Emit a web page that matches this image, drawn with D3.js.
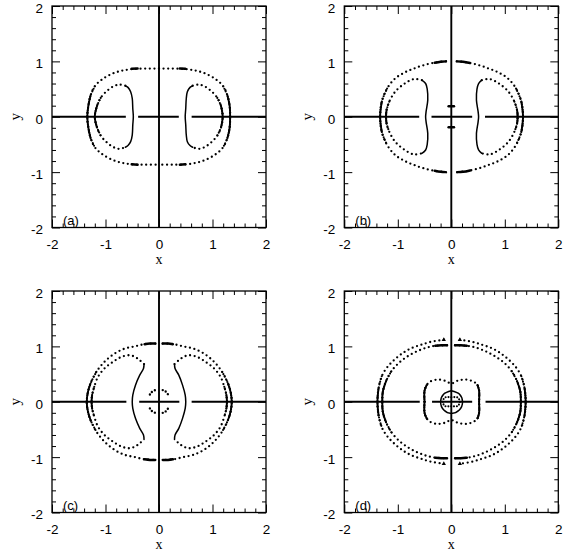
<!DOCTYPE html>
<html><head><meta charset="utf-8">
<script src="https://cdn.jsdelivr.net/npm/d3@7"></script>
<style>body{margin:0;background:#fff}svg{display:block}</style>
</head><body>
<svg id="chart" width="563" height="552"></svg>
<script>
// ---------- tick data ----------
const majorTicks = [-2, -1, 0, 1, 2];
const tickLabels = ["-2", "-1", "0", "1", "2"];
const minorTicks = [-1.8,-1.6,-1.4,-1.2,-0.8,-0.6,-0.4,-0.2,0.2,0.4,0.6,0.8,1.2,1.4,1.6,1.8];
const panelLabels = ["(a)", "(b)", "(c)", "(d)"];
const xTitle = "x", yTitle = "y";

// ---------- shared vertical axis line (x = 0) ----------
const vAxisSpan = [-2, 2];

// ---------- panel (a) ----------
const aAxisH = [[-2,-0.62],[-0.39,0.37],[0.61,2]];
const aOuter = [
  [[0,0.87],[-0.25,0.87],[-0.5,0.86],[-0.70,0.83],[-0.88,0.775],[-1.07,0.67],[-1.20,0.55],[-1.28,0.38],[-1.32,0.2],[-1.34,0],[-1.32,-0.2],[-1.28,-0.38],[-1.20,-0.55],[-1.07,-0.67],[-0.88,-0.775],[-0.70,-0.83],[-0.5,-0.86],[-0.25,-0.865],[0,-0.865]],
  [[0,0.87],[0.25,0.87],[0.5,0.86],[0.70,0.83],[0.88,0.775],[1.07,0.67],[1.20,0.55],[1.28,0.38],[1.32,0.2],[1.33,0],[1.32,-0.2],[1.28,-0.38],[1.20,-0.55],[1.07,-0.67],[0.88,-0.775],[0.70,-0.83],[0.5,-0.86],[0.25,-0.865],[0,-0.865]]
];
const aInner = [
  [[-0.63,0.56],[-0.74,0.58],[-0.85,0.55],[-0.98,0.46],[-1.09,0.34],[-1.16,0.19],[-1.20,0],[-1.16,-0.19],[-1.09,-0.34],[-0.98,-0.46],[-0.85,-0.55],[-0.74,-0.58],[-0.63,-0.55]],
  [[0.63,0.56],[0.74,0.58],[0.85,0.55],[0.98,0.46],[1.09,0.34],[1.16,0.19],[1.19,0],[1.16,-0.19],[1.09,-0.34],[0.98,-0.46],[0.85,-0.55],[0.74,-0.58],[0.63,-0.55]]
];
const aBrackets = [
  [[-0.63,0.56],[-0.58,0.53],[-0.53,0.45],[-0.50,0.33],[-0.49,0.15],[-0.48,0],[-0.49,-0.15],[-0.50,-0.33],[-0.53,-0.45],[-0.58,-0.52],[-0.63,-0.55]],
  [[0.63,0.56],[0.58,0.53],[0.53,0.45],[0.51,0.33],[0.50,0.15],[0.49,0],[0.50,-0.15],[0.51,-0.33],[0.53,-0.45],[0.58,-0.52],[0.63,-0.55]]
];
const aClumps = [
  [[-0.51,0.865],[-0.40,0.87]], [[0.39,0.87],[0.49,0.865]],
  [[-0.51,-0.86],[-0.40,-0.865]], [[0.39,-0.865],[0.49,-0.86]]
];

// ---------- panel (b) ----------
const bAxisH = [[-2,-0.60],[-0.37,0.39],[0.63,2]];
const bOuter = [
  [[-0.1,1.0],[-0.30,0.98],[-0.52,0.93],[-0.70,0.87],[-0.87,0.80],[-1.05,0.69],[-1.20,0.51],[-1.30,0.27],[-1.33,0],[-1.30,-0.27],[-1.20,-0.51],[-1.05,-0.69],[-0.87,-0.80],[-0.70,-0.87],[-0.52,-0.93],[-0.30,-0.98],[-0.1,-1.0]],
  [[0.1,1.0],[0.30,0.98],[0.52,0.93],[0.70,0.87],[0.88,0.80],[1.06,0.69],[1.21,0.51],[1.31,0.27],[1.34,0],[1.31,-0.27],[1.21,-0.51],[1.06,-0.69],[0.88,-0.80],[0.70,-0.87],[0.52,-0.93],[0.30,-0.98],[0.1,-1.0]]
];
const bInner = [
  [[-0.55,0.66],[-0.70,0.68],[-0.87,0.60],[-1.05,0.45],[-1.16,0.27],[-1.21,0.12],[-1.22,0],[-1.21,-0.12],[-1.16,-0.27],[-1.05,-0.45],[-0.87,-0.60],[-0.70,-0.68],[-0.55,-0.66]],
  [[0.57,0.66],[0.72,0.68],[0.89,0.60],[1.07,0.45],[1.18,0.27],[1.23,0.12],[1.24,0],[1.23,-0.12],[1.18,-0.27],[1.07,-0.45],[0.89,-0.60],[0.72,-0.68],[0.57,-0.66]]
];
const bBrackets = [
  [[-0.55,0.66],[-0.48,0.6],[-0.45,0.5],[-0.44,0.3],[-0.47,0.1],[-0.48,0],[-0.47,-0.1],[-0.44,-0.3],[-0.45,-0.5],[-0.48,-0.6],[-0.55,-0.66]],
  [[0.57,0.66],[0.51,0.6],[0.48,0.5],[0.47,0.3],[0.50,0.1],[0.51,0],[0.50,-0.1],[0.47,-0.3],[0.48,-0.5],[0.51,-0.6],[0.57,-0.66]]
];
const bClumps = [
  [[-0.31,0.975],[-0.20,0.995],[-0.10,1.0]], [[0.11,1.0],[0.22,0.995],[0.35,0.97]],
  [[-0.31,-0.975],[-0.20,-0.995],[-0.10,-1.0]], [[0.11,-1.0],[0.22,-0.995],[0.35,-0.97]]
];
const bMarks = [
  [[-0.05,0.19],[0.05,0.19]], [[-0.05,-0.19],[0.05,-0.19]]
];

// ---------- panel (c) ----------
const cAxisH = [[-2,-0.61],[-0.37,0.38],[0.61,2]];
const cOuter = [
  [[-0.07,1.05],[-0.27,1.04],[-0.45,1.0],[-0.64,0.96],[-0.83,0.87],[-1.02,0.72],[-1.17,0.54],[-1.28,0.33],[-1.33,0.17],[-1.35,0],[-1.33,-0.17],[-1.28,-0.33],[-1.17,-0.54],[-1.02,-0.72],[-0.83,-0.87],[-0.64,-0.96],[-0.45,-1.0],[-0.27,-1.04],[-0.07,-1.05]],
  [[0.07,1.05],[0.27,1.04],[0.45,1.0],[0.64,0.96],[0.84,0.87],[1.03,0.72],[1.18,0.54],[1.29,0.33],[1.34,0.17],[1.36,0],[1.34,-0.17],[1.29,-0.33],[1.18,-0.54],[1.03,-0.72],[0.84,-0.87],[0.64,-0.96],[0.45,-1.0],[0.27,-1.04],[0.07,-1.05]]
];
const cInner = [
  [[-0.28,0.68],[-0.36,0.75],[-0.45,0.81],[-0.55,0.84],[-0.70,0.81],[-0.86,0.72],[-1.02,0.60],[-1.14,0.45],[-1.21,0.27],[-1.25,0.12],[-1.26,0],[-1.25,-0.12],[-1.21,-0.27],[-1.14,-0.45],[-1.02,-0.60],[-0.86,-0.72],[-0.70,-0.81],[-0.55,-0.84],[-0.45,-0.81],[-0.36,-0.75],[-0.28,-0.68]],
  [[0.29,0.68],[0.37,0.75],[0.46,0.81],[0.56,0.84],[0.71,0.81],[0.87,0.72],[1.03,0.60],[1.15,0.45],[1.22,0.27],[1.26,0.12],[1.27,0],[1.26,-0.12],[1.22,-0.27],[1.15,-0.45],[1.03,-0.60],[0.87,-0.72],[0.71,-0.81],[0.56,-0.84],[0.46,-0.81],[0.37,-0.75],[0.29,-0.68]]
];
const cBrackets = [
  [[-0.28,0.68],[-0.29,0.6],[-0.36,0.48],[-0.44,0.3],[-0.49,0.12],[-0.50,0],[-0.49,-0.12],[-0.44,-0.3],[-0.36,-0.48],[-0.29,-0.6],[-0.28,-0.68]],
  [[0.29,0.68],[0.30,0.6],[0.37,0.48],[0.44,0.3],[0.49,0.12],[0.50,0],[0.49,-0.12],[0.44,-0.3],[0.37,-0.48],[0.30,-0.6],[0.29,-0.68]]
];
const cClumps = [
  [[-0.27,1.04],[-0.17,1.05],[-0.07,1.05]], [[0.07,1.05],[0.17,1.05],[0.26,1.04]],
  [[-0.27,-1.04],[-0.17,-1.05],[-0.07,-1.05]], [[0.07,-1.05],[0.17,-1.05],[0.26,-1.04]]
];
const cCore = [
  [[-0.17,0.13],[-0.13,0.18],[-0.07,0.21]], [[0.07,0.21],[0.13,0.18],[0.17,0.13]],
  [[-0.17,-0.12],[-0.13,-0.17],[-0.07,-0.2]], [[0.07,-0.2],[0.13,-0.17],[0.17,-0.12]]
];

// ---------- panel (d) ----------
const dAxisH = [[-2,-0.59],[-0.36,0.39],[0.64,2]];
const dOuter = [
  [[-0.14,1.12],[-0.39,1.08],[-0.56,1.03],[-0.74,0.97],[-0.89,0.89],[-1.05,0.77],[-1.20,0.62],[-1.30,0.46],[-1.36,0.24],[-1.38,0],[-1.36,-0.24],[-1.30,-0.46],[-1.20,-0.62],[-1.05,-0.77],[-0.89,-0.89],[-0.74,-0.97],[-0.56,-1.03],[-0.39,-1.08],[-0.14,-1.12]],
  [[0.16,1.12],[0.40,1.08],[0.57,1.03],[0.75,0.97],[0.90,0.89],[1.06,0.77],[1.21,0.62],[1.31,0.46],[1.37,0.24],[1.39,0],[1.37,-0.24],[1.31,-0.46],[1.21,-0.62],[1.06,-0.77],[0.90,-0.89],[0.75,-0.97],[0.57,-1.03],[0.40,-1.08],[0.16,-1.12]]
];
const dInner = [
  [[-0.08,1.02],[-0.30,1.01],[-0.45,0.98],[-0.62,0.92],[-0.80,0.83],[-0.97,0.71],[-1.12,0.55],[-1.22,0.37],[-1.28,0.18],[-1.29,0],[-1.28,-0.18],[-1.22,-0.37],[-1.12,-0.55],[-0.97,-0.71],[-0.80,-0.83],[-0.62,-0.92],[-0.45,-0.98],[-0.30,-1.01],[-0.08,-1.02]],
  [[0.07,1.02],[0.29,1.01],[0.45,0.98],[0.62,0.92],[0.80,0.83],[0.98,0.71],[1.13,0.55],[1.23,0.37],[1.29,0.18],[1.30,0],[1.29,-0.18],[1.23,-0.37],[1.13,-0.55],[0.98,-0.71],[0.80,-0.83],[0.62,-0.92],[0.45,-0.98],[0.29,-1.01],[0.07,-1.02]]
];
const dClumps = [
  [[-0.30,1.01],[-0.19,1.02],[-0.08,1.02]], [[0.07,1.02],[0.18,1.02],[0.29,1.01]],
  [[-0.30,-1.01],[-0.19,-1.02],[-0.08,-1.02]], [[0.07,-1.02],[0.18,-1.02],[0.29,-1.01]]
];
const dPeaks = [[-0.14,1.12],[0.16,1.12],[-0.14,-1.12],[0.16,-1.12]];
const dLoop = [
  [[-0.50,0],[-0.50,0.2],[-0.46,0.3],[-0.40,0.36],[-0.27,0.40],[-0.12,0.38],[0,0.33],[0.12,0.38],[0.28,0.40],[0.42,0.36],[0.49,0.3],[0.52,0.2],[0.52,0],[0.52,-0.2],[0.49,-0.3],[0.42,-0.36],[0.28,-0.40],[0.12,-0.38],[0,-0.33],[-0.12,-0.38],[-0.27,-0.40],[-0.40,-0.36],[-0.46,-0.3],[-0.50,-0.2],[-0.50,0]]
];
const dRing = [
  [[0,0.20],[-0.14,0.14],[-0.20,0],[-0.14,-0.15],[0,-0.21],[0.15,-0.15],[0.21,0],[0.15,0.14],[0,0.20]]
];
const dOval = [
  [[0,0.08],[-0.12,0.075],[-0.16,0],[-0.12,-0.075],[0,-0.08],[0.12,-0.075],[0.16,0],[0.12,0.075],[0,0.08]]
];

// ---------- panel layout & style config ----------
const STYLE = {
  sparse: {w: 2.3, dash: "0,4.6", cap: "round"},
  medium: {w: 2.1, dash: "0,2.8", cap: "round"},
  core:   {w: 2.4, dash: "0,3.2", cap: "round"},
  side:   {w: 1.9, dash: null,    cap: "round"},
  dense:  {w: 1.5, dash: null,    cap: "round"},
  clump:  {w: 2.5, dash: null,    cap: "round"},
  axis:   {w: 1.9, dash: null,    cap: "butt"}
};
const OUTER_T = {dense: 0.38, med: 0.6};
const INNER_T = {dense: 0.25, med: 0.42};

const panels = [
  {label: panelLabels[0], box: {L: 52,    R: 266,   T: 6,   B: 227.5},
   axisH: aAxisH, graded: [[aOuter, OUTER_T], [aInner, INNER_T]], dense: [aBrackets], medium: [], core: [], clumps: [aClumps], peaks: []},
  {label: panelLabels[1], box: {L: 344.3, R: 558.3, T: 6,   B: 227.5},
   axisH: bAxisH, graded: [[bOuter, OUTER_T], [bInner, INNER_T]], dense: [bBrackets], medium: [], core: [], clumps: [bClumps, bMarks], peaks: []},
  {label: panelLabels[2], box: {L: 52,    R: 266,   T: 291, B: 512.5},
   axisH: cAxisH, graded: [[cOuter, OUTER_T], [cInner, INNER_T]], dense: [cBrackets], medium: [], core: [cCore], clumps: [cClumps], peaks: []},
  {label: panelLabels[3], box: {L: 344.3, R: 558.3, T: 291, B: 512.5},
   axisH: dAxisH, graded: [[dOuter, OUTER_T], [dInner, OUTER_T], [dLoop, {dense: 0.3, med: 0.3}]], dense: [dRing], medium: [dOval], core: [], clumps: [dClumps], peaks: dPeaks}
];

const svg = d3.select("#chart");
svg.append("rect").attr("width", 563).attr("height", 552).attr("fill", "#fff");

function runs(pts, pred) {
  const out = []; let cur = [];
  pts.forEach(p => {
    if (pred(p)) cur.push(p);
    else { if (cur.length > 1) out.push(cur); cur = []; }
  });
  if (cur.length > 1) out.push(cur);
  return out;
}

panels.forEach(P => {
  const {L, R, T, B} = P.box;
  const x = d3.scaleLinear().domain([-2, 2]).range([L, R]);
  const y = d3.scaleLinear().domain([-2, 2]).range([B, T]);
  const g = svg.append("g");
  const line = d3.line().x(d => x(d[0])).y(d => y(d[1])).curve(d3.curveCatmullRom.alpha(0.5));
  const straight = d3.line().x(d => x(d[0])).y(d => y(d[1]));
  const clipId = "clip" + P.label.replace(/\W/g, "");
  g.append("clipPath").attr("id", clipId).append("rect")
    .attr("x", L).attr("y", T).attr("width", R - L).attr("height", B - T);
  const plot = g.append("g").attr("clip-path", `url(#${clipId})`);

  function draw(pts, st, gen) {
    const s = STYLE[st];
    plot.append("path").attr("d", (gen || line)(pts))
      .attr("fill", "none").attr("stroke", "#000")
      .attr("stroke-width", s.w).attr("stroke-linecap", s.cap)
      .attr("stroke-linejoin", "round")
      .attr("stroke-dasharray", s.dash);
  }

  // axis lines made of dense points
  draw([[0, vAxisSpan[0]], [0, vAxisSpan[1]]], "axis", straight);
  P.axisH.forEach(seg => draw([[seg[0], 0], [seg[1], 0]], "axis", straight));

  // graded curves: sparse dots, denser near y = 0
  P.graded.forEach(([curves, t]) => {
    curves.forEach(c => {
      draw(c, "sparse");
      runs(c, p => Math.abs(p[1]) <= t.med + 1e-9).forEach(r => draw(r, "medium"));
      runs(c, p => Math.abs(p[1]) <= t.dense + 1e-9).forEach(r => draw(r, "side"));
    });
  });
  P.dense.forEach(curves => curves.forEach(c => draw(c, "dense")));
  P.medium.forEach(curves => curves.forEach(c => draw(c, "medium")));
  P.core.forEach(curves => curves.forEach(c => draw(c, "core")));
  P.clumps.forEach(curves => curves.forEach(c => draw(c, "clump")));
  plot.selectAll(".peak").data(P.peaks).join("path").attr("class", "peak")
    .attr("d", d3.symbol(d3.symbolTriangle, 8))
    .attr("transform", d => `translate(${x(d[0])},${y(d[1])})`)
    .attr("fill", "#000");

  // frame
  g.append("rect").attr("x", L).attr("y", T).attr("width", R - L).attr("height", B - T)
    .attr("fill", "none").attr("stroke", "#000").attr("stroke-width", 1.3);

  const font = "'Liberation Sans', Arial, Helvetica, sans-serif";
  function addAxis(axisFn, scale, vals, size, fmt, pad, tx, ty) {
    const a = axisFn(scale).tickValues(vals).tickSizeInner(size).tickSizeOuter(0)
      .tickPadding(pad).tickFormat(fmt);
    const ag = g.append("g").attr("transform", `translate(${tx},${ty})`).call(a)
      .attr("font-family", font).attr("font-size", 13.5);
    ag.select(".domain").remove();
    ag.selectAll(".tick line").attr("stroke-width", 1);
    return ag;
  }
  const fmtLabel = d => tickLabels[majorTicks.indexOf(d)];
  const none = () => "";
  // bottom
  addAxis(d3.axisBottom, x, majorTicks, -8, fmtLabel, 11.6, 0, B);
  addAxis(d3.axisBottom, x, minorTicks, -4, none, 0, 0, B);
  // top
  addAxis(d3.axisTop, x, majorTicks, -8, none, 0, 0, T);
  addAxis(d3.axisTop, x, minorTicks, -4, none, 0, 0, T);
  // left
  const la = addAxis(d3.axisLeft, y, majorTicks, -8, fmtLabel, 9, L, 0);
  la.selectAll(".tick text").attr("y", 2);
  addAxis(d3.axisLeft, y, minorTicks, -4, none, 0, L, 0);
  // right
  addAxis(d3.axisRight, y, majorTicks, -8, none, 0, R, 0);
  addAxis(d3.axisRight, y, minorTicks, -4, none, 0, R, 0);

  // titles
  const serif = "'Liberation Serif', 'Times New Roman', serif";
  g.append("text").attr("x", (L + R) / 2).attr("y", B + 36.8)
    .attr("text-anchor", "middle").attr("font-family", serif).attr("font-size", 14).text(xTitle);
  g.append("text").attr("transform", `translate(${L - 32},${(T + B) / 2}) rotate(-90)`)
    .attr("text-anchor", "middle").attr("font-family", serif).attr("font-size", 15).text(yTitle);
  // panel label
  g.append("text").attr("x", L + 11).attr("y", B - 3)
    .attr("font-family", font).attr("font-size", 13).text(P.label);
});
</script>
</body></html>
